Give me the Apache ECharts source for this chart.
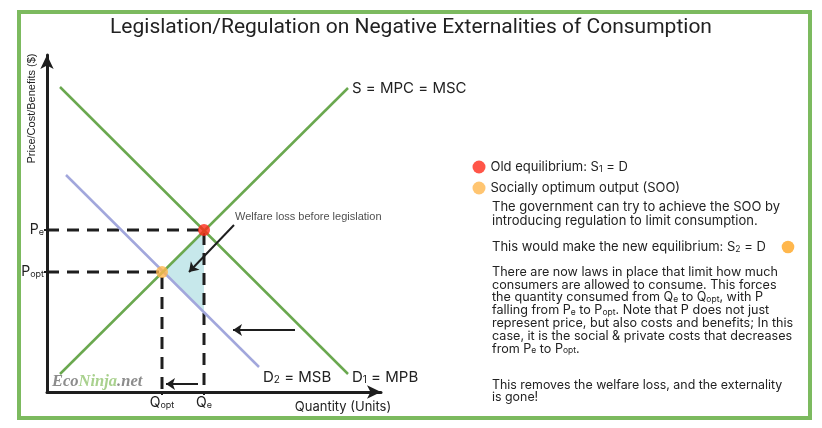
<!DOCTYPE html>
<html><head><meta charset="utf-8">
<script src="https://cdn.jsdelivr.net/npm/echarts@6/dist/echarts.min.js"></script>
<style>html,body{margin:0;padding:0;background:#fff}#c{width:822px;height:428px}</style>
</head><body><div id="c"></div>
<script>
// ---- data (axis units: quantity on x, price/cost/benefit on y) ----
const supplyS   = [[13, 18], [301, 304]];     // S = MPC = MSC
const demandD1  = [[13, 305], [301, 18]];     // D1 = MPB
const demandD2  = [[19, 217], [212, 25]];     // D2 = MSB
const oldEq     = [[157, 162]];               // Qe, Pe
const socialOpt = [[115, 120]];               // Qopt, Popt
const welfareLoss = [[115, 120], [157, 162], [157, 80]];
const priceTicks  = [120, 162];
const priceLabels = ['P{s|opt}', 'P{s|e}'];
const qtyTicks    = [115, 157];
const qtyLabels   = ['Q{s|opt}', 'Q{s|e}'];
const arrows = [
  [[187, 167], [142, 120]],
  [[248, 62], [186, 62]],
  [[151, 8], [119, 8]]
];
const welfareLabelPos = [[186, 175]];

const GREEN = '#6aa84f', PURPLE = '#a2a7dc', RED = '#ff2a1a', ORANGE = '#ffb74d', INK = '#1e1e1e';
const TXT = '#222';

const pe = oldEq[0], po = socialOpt[0];
const guidePe = [[0, pe[1]], [pe[0], pe[1]], [pe[0], 0]];
const guidePo = [[0, po[1]], [po[0], po[1]], [po[0], 0]];

const chart = echarts.init(document.getElementById('c'));
const subRich = {
  s: { fontSize: 9, verticalAlign: 'bottom', lineHeight: 6, fontFamily: 'Inter', color: TXT },
  big: { fontSize: 14, fontFamily: 'Inter', color: TXT }
};
const labSub = (str) => str.replace(/^([A-Z])/, '{big|$1}');

const para3 = [
  'There are now laws in place that limit how much',
  'consumers are allowed to consume. This forces',
  'the quantity consumed from Q{s|e} to Q{s|opt}, with P',
  'falling from P{s|e} to P{s|opt}. Note that P does not just',
  'represent price, but also costs and benefits; In this',
  'case, it is the social & private costs that decreases',
  'from P{s|e} to P{s|opt}.'
].join('\n');
const textRich = { s: { fontSize: 8.5, verticalAlign: 'bottom', lineHeight: 7, fontFamily: 'Inter', fill: TXT } };
const bodyStyle = (x, y, text, lh, fs) => ({
  type: 'text', silent: true,
  style: { x, y, text, fill: TXT, fontSize: fs, fontFamily: 'Inter', lineHeight: lh, verticalAlign: 'top', rich: textRich }
});

const option = {
  animation: false,
  title: {
    text: 'Legislation/Regulation on Negative Externalities of Consumption',
    left: 'center', top: 17, padding: 0,
    textStyle: { fontFamily: 'Roboto', fontWeight: 'normal', fontSize: 21, color: TXT, lineHeight: 22 }
  },
  legend: {
    orient: 'vertical', left: 472.5, top: 160.5, itemWidth: 13, itemHeight: 13, itemGap: 8,
    icon: 'circle', selectedMode: false, padding: 0,
    data: ['Old equilibrium: S1 = D', 'Socially optimum output (SOO)'],
    formatter: (n) => n.replace('S1', 'S{s|1}'),
    textStyle: { fontFamily: 'Inter', fontSize: 13, color: TXT,
      rich: { s: { fontSize: 9, verticalAlign: 'bottom', lineHeight: 7, fontFamily: 'Inter', color: TXT } } }
  },
  grid: { left: 47, top: 55, right: 441, bottom: 36 },
  xAxis: {
    type: 'value', min: 0, max: 334, splitLine: { show: false },
    axisLine: { show: true, onZero: false, symbol: ['none', 'arrow'], symbolSize: [10, 14], lineStyle: { color: INK, width: 3 } },
    axisTick: { show: true, customValues: qtyTicks, length: 3, lineStyle: { color: INK, width: 2 } },
    axisLabel: { show: true, customValues: qtyTicks, margin: 4, formatter: (v) => labSub(qtyLabels[qtyTicks.indexOf(v)] || ''), rich: subRich, color: TXT }
  },
  yAxis: {
    type: 'value', min: 0, max: 337, splitLine: { show: false },
    axisLine: { show: true, onZero: false, symbol: ['none', 'arrow'], symbolSize: [10, 14], lineStyle: { color: INK, width: 3 } },
    axisTick: { show: true, customValues: priceTicks, length: 3, lineStyle: { color: INK, width: 2 } },
    axisLabel: { show: true, customValues: priceTicks, margin: 3, formatter: (v) => labSub(priceLabels[priceTicks.indexOf(v)] || ''), rich: subRich, color: TXT }
  },
  series: [
    { type: 'custom', z: 1, silent: true, data: welfareLoss,
      renderItem: (params, api) => {
        if (params.dataIndex !== 0) return null;
        return { type: 'polygon', shape: { points: welfareLoss.map(p => api.coord(p)) }, style: { fill: '#c7e8eb' } };
      } },
    { type: 'line', z: 2, silent: true, data: guidePe, symbol: 'none', lineStyle: { color: INK, width: 3, type: [12, 8] } },
    { type: 'line', z: 2, silent: true, data: guidePo, symbol: 'none', lineStyle: { color: INK, width: 3, type: [12, 8] } },
    { type: 'line', z: 3, silent: true, data: demandD2, symbol: 'none', lineStyle: { color: PURPLE, width: 2.5 },
      endLabel: { show: true, formatter: 'D{s|2} = MSB', distance: 4, offset: [0, 10], fontFamily: 'Inter', fontSize: 15, color: TXT,
        rich: { s: { fontSize: 10, verticalAlign: 'bottom', lineHeight: 8, fontFamily: 'Inter', color: TXT } } } },
    { type: 'line', z: 3, silent: true, data: demandD1, symbol: 'none', lineStyle: { color: GREEN, width: 2.5 },
      endLabel: { show: true, formatter: 'D{s|1} = MPB', distance: 4, offset: [0, 3], fontFamily: 'Inter', fontSize: 15, color: TXT,
        rich: { s: { fontSize: 10, verticalAlign: 'bottom', lineHeight: 8, fontFamily: 'Inter', color: TXT } } } },
    { type: 'line', z: 3, silent: true, data: supplyS, symbol: 'none', lineStyle: { color: GREEN, width: 2.5 },
      endLabel: { show: true, formatter: 'S = MPC = MSC', distance: 4, fontFamily: 'Inter', fontSize: 15, color: TXT } },
    { type: 'lines', coordinateSystem: 'cartesian2d', z: 4, silent: true,
      data: arrows.map(c => ({ coords: c })), symbol: ['none', 'arrow'], symbolSize: 9,
      lineStyle: { color: INK, width: 2, opacity: 1, curveness: 0 } },
    { type: 'scatter', z: 4, silent: true, data: welfareLabelPos, symbolSize: 0,
      label: { show: true, position: 'right', distance: 2, formatter: 'Welfare loss before legislation', fontFamily: 'Liberation Sans', fontSize: 11, color: TXT } },
    { name: 'Old equilibrium: S1 = D', type: 'scatter', z: 5, silent: true, data: oldEq, symbol: 'circle', symbolSize: 12, itemStyle: { color: RED } },
    { name: 'Socially optimum output (SOO)', type: 'scatter', z: 5, silent: true, data: socialOpt, symbol: 'circle', symbolSize: 12, itemStyle: { color: ORANGE } }
  ],
  graphic: [
    { type: 'rect', silent: true, shape: { x: 19, y: 12, width: 791, height: 406 }, style: { fill: 'none', stroke: '#7cba5f', lineWidth: 4 } },
    { type: 'text', silent: true, rotation: Math.PI / 2, x: 32, y: 108.5,
      style: { text: 'Price/Cost/Benefits ($)', fontFamily: 'Liberation Sans', fontSize: 11, fill: TXT, align: 'center', verticalAlign: 'middle' } },
    { type: 'text', silent: true, x: 343, y: 407,
      style: { text: 'Quantity (Units)', fontFamily: 'Inter', fontSize: 13, fill: TXT, align: 'center', verticalAlign: 'middle' } },
    { type: 'text', silent: true, x: 52, y: 382,
      style: { text: '{a|Eco}{b|Ninja}{a|.net}', verticalAlign: 'middle',
        rich: { a: { fontFamily: 'Liberation Serif', fontWeight: 'bold', fontStyle: 'italic', fontSize: 16.5, fill: '#8c8c8c' },
                b: { fontFamily: 'Liberation Serif', fontWeight: 'bold', fontStyle: 'italic', fontSize: 16.5, fill: '#a9d18e' } } } },
    bodyStyle(492, 200.6, 'The government can try to achieve the SOO by\nintroducing regulation to limit consumption.', 13.4, 13),
    bodyStyle(492, 240.5, 'This would make the new equilibrium: S{s|2} = D', 13, 13),
    { type: 'circle', silent: true, shape: { cx: 788, cy: 247, r: 6.3 }, style: { fill: ORANGE } },
    bodyStyle(492, 265.6, para3, 12.8, 12.6),
    bodyStyle(492, 379, 'This removes the welfare loss, and the externality\nis gone!', 12, 12.4)
  ]
};
chart.setOption(option);
</script>
</body></html>
